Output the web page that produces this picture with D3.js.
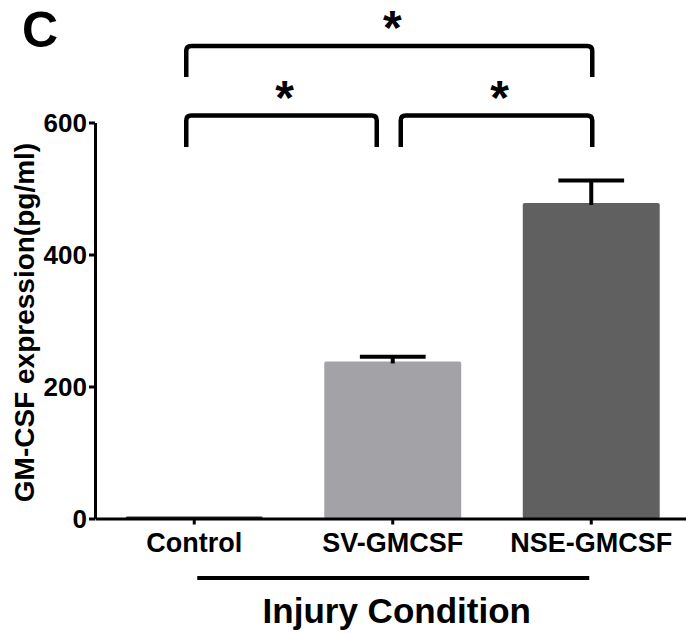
<!DOCTYPE html>
<html>
<head>
<meta charset="utf-8">
<script src="https://cdn.jsdelivr.net/npm/d3@7"></script>
<style>
  html, body { margin: 0; padding: 0; background: #fff; }
  svg { display: block; font-family: "Liberation Sans", Arial, sans-serif; font-weight: bold; }
</style>
</head>
<body>
<div id="chart-area"></div>
<script>
// GM-CSF expression by injury condition (panel C)
const categories = ['Control', 'SV-GMCSF', 'NSE-GMCSF'];
const means = [3, 238, 478];
const errors = [0, 7, 34];
const yTicks = [0, 200, 400, 600];
const barColors = ['#2a2a2a', '#a3a2a7', '#606060'];
// significance comparisons (category index pairs)
const compFrom = [0, 0, 1];
const compTo = [2, 1, 2];
const compLabel = ['*', '*', '*'];

const width = 686, height = 633;

const svg = d3.select('#chart-area').append('svg')
  .attr('width', width)
  .attr('height', height);

const x = d3.scaleBand()
  .domain(categories)
  .range([95, 690.5])
  .paddingInner(0.31)
  .paddingOuter(0.155);

const y = d3.scaleLinear()
  .domain([0, 600])
  .range([518.5, 122.5]);

const cx = i => x(categories[i]) + x.bandwidth() / 2;

// bars
svg.selectAll('rect.bar')
  .data(means)
  .enter().append('rect')
    .attr('class', 'bar')
    .attr('x', (d, i) => x(categories[i]))
    .attr('y', d => y(d))
    .attr('width', x.bandwidth())
    .attr('height', d => y(0) - y(d))
    .attr('rx', 2)
    .attr('fill', (d, i) => barColors[i]);

// error bars (upper only)
const capW = x.bandwidth() * 0.48;
const err = svg.selectAll('g.err')
  .data(means.map((m, i) => ({ m, e: errors[i], i })).filter(d => d.e > 0))
  .enter().append('g')
    .attr('class', 'err');

err.append('line')
  .attr('x1', d => cx(d.i)).attr('x2', d => cx(d.i))
  .attr('y1', d => y(d.m) + 2).attr('y2', d => y(d.m + d.e))
  .attr('stroke', '#000').attr('stroke-width', 4);

err.append('line')
  .attr('x1', d => cx(d.i) - capW / 2).attr('x2', d => cx(d.i) + capW / 2)
  .attr('y1', d => y(d.m + d.e)).attr('y2', d => y(d.m + d.e))
  .attr('stroke', '#000').attr('stroke-width', 4);

// axes
const yAxis = svg.append('g')
  .attr('transform', 'translate(95,0)')
  .call(d3.axisLeft(y).tickValues(yTicks).tickSize(6).tickPadding(2).tickSizeOuter(0));

const xAxis = svg.append('g')
  .attr('transform', `translate(0,${y(0)})`)
  .call(d3.axisBottom(x).tickSize(6).tickPadding(8).tickSizeOuter(0));

[yAxis, xAxis].forEach(g => {
  g.select('.domain').attr('stroke', '#000').attr('stroke-width', 3);
  g.selectAll('.tick line').attr('stroke', '#000').attr('stroke-width', 3);
  g.selectAll('.tick text')
    .attr('fill', '#000')
    .style('font-family', '"Liberation Sans", Arial, sans-serif')
    .style('font-weight', 'bold');
});
yAxis.selectAll('.tick text').style('font-size', '26px').attr('dy', '0.36em');
xAxis.selectAll('.tick text').style('font-size', '27px').attr('dy', '0.72em');

// x axis grouping line and title
svg.append('line')
  .attr('x1', cx(0) + 3).attr('x2', cx(2) - 2)
  .attr('y1', 578).attr('y2', 578)
  .attr('stroke', '#000').attr('stroke-width', 4);

svg.append('text')
  .attr('x', (cx(0) + cx(2)) / 2 + 4)
  .attr('y', 623)
  .attr('text-anchor', 'middle')
  .style('font-size', '35px')
  .text('Injury Condition');

// y axis title
svg.append('text')
  .attr('transform', `translate(34,${(y(0) + y(600)) / 2 + 2}) rotate(-90)`)
  .attr('text-anchor', 'middle')
  .style('font-size', '28px')
  .text('GM-CSF expression(pg/ml)');

// panel letter
svg.append('text')
  .attr('x', 22)
  .attr('y', 47)
  .style('font-size', '50px')
  .text('C');

// significance brackets
const startInset = { 0: -8, 1: 8 };
const endInset = { 1: -16, 2: 1 };
const comps = compFrom.map((f, k) => ({ f, t: compTo[k], label: compLabel[k], top: (compTo[k] - f) > 1 }));
const r = 5;
comps.forEach(c => {
  const x1 = cx(c.f) + startInset[c.f];
  const x2 = cx(c.t) + endInset[c.t];
  const yTop = c.top ? y(716) : y(610.5);
  const yBot = c.top ? y(669) : y(563);
  const path = d3.path();
  path.moveTo(x1, yBot);
  path.lineTo(x1, yTop + r);
  path.quadraticCurveTo(x1, yTop, x1 + r, yTop);
  path.lineTo(x2 - r, yTop);
  path.quadraticCurveTo(x2, yTop, x2, yTop + r);
  path.lineTo(x2, yBot);
  svg.append('path')
    .attr('d', path.toString())
    .attr('fill', 'none')
    .attr('stroke', '#000')
    .attr('stroke-width', 4.5);
  svg.append('text')
    .attr('x', (x1 + x2) / 2 + 3)
    .attr('y', yTop - 2)
    .attr('text-anchor', 'middle')
    .style('font-size', '48px')
    .text(c.label);
});
</script>
</body>
</html>
